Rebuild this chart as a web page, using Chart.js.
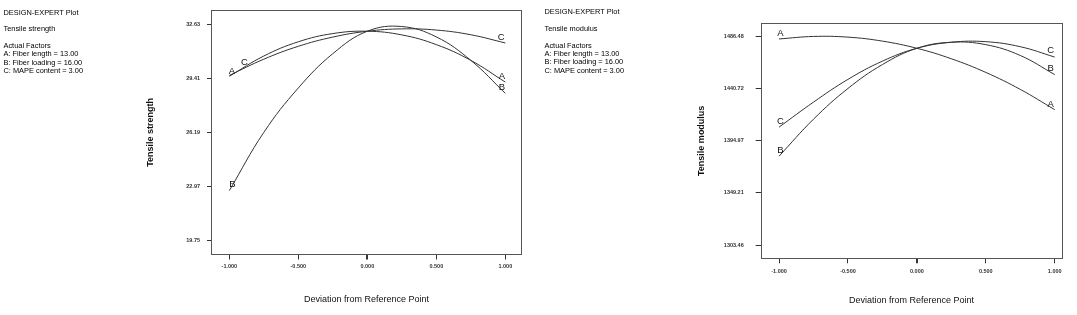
<!DOCTYPE html>
<html><head><meta charset="utf-8">
<script src="https://cdn.jsdelivr.net/npm/chart.js@4"></script>
<style>
html,body{margin:0;padding:0;background:#fff;width:1077px;height:315px;overflow:hidden;position:relative;font-family:"Liberation Sans",Arial,sans-serif;}
.wrap{position:absolute;top:0;height:315px;}
#infoCanvas{position:absolute;left:0;top:0;}
</style></head><body>
<canvas id="infoCanvas" width="1077" height="315"></canvas>
<div class="wrap" style="left:140px;width:400px"><canvas id="c1" width="400" height="315"></canvas></div>
<div class="wrap" style="left:690px;width:387px"><canvas id="c2" width="387" height="315"></canvas></div>
<script>
// ---- data ----
const xValues = [-1, -0.75, -0.5, -0.25, 0, 0.25, 0.5, 0.75, 1];
const strengthA = [29.55, 30.76, 31.61, 32.10, 32.24, 32.02, 31.44, 30.50, 29.20];
const strengthB = [22.72, 26.20, 28.85, 30.90, 32.24, 32.52, 31.90, 30.50, 28.53];
const strengthC = [29.60, 30.57, 31.34, 31.89, 32.24, 32.38, 32.31, 32.03, 31.54];
const modulusA = [1484.5, 1486.7, 1486.1, 1482.6, 1476.3, 1467.1, 1455.1, 1440.2, 1422.4];
const modulusB = [1381.5, 1414.0, 1441.0, 1462.0, 1476.3, 1481.6, 1479.5, 1470.0, 1453.2];
const modulusC = [1407.0, 1429.0, 1449.0, 1465.0, 1476.3, 1481.6, 1482.1, 1477.7, 1468.6];
const xTicks = [-1, -0.5, 0, 0.5, 1];
const xTickLabels = ["-1.000", "-0.500", "0.000", "0.500", "1.000"];
const strengthTicks = [19.75, 22.97, 26.19, 29.41, 32.63];
const strengthTickLabels = ["19.75", "22.97", "26.19", "29.41", "32.63"];
const modulusTicks = [1303.46, 1349.21, 1394.97, 1440.72, 1486.48];
const modulusTickLabels = ["1303.46", "1349.21", "1394.97", "1440.72", "1486.48"];
const seriesNames = ["A", "B", "C"];
const info1 = ["DESIGN-EXPERT Plot", "", "Tensile strength", "", "Actual Factors", "A: Fiber length = 13.00", "B: Fiber loading = 16.00", "C: MAPE content = 3.00"];
const info2 = ["DESIGN-EXPERT Plot", "", "Tensile modulus", "", "Actual Factors", "A: Fiber length = 13.00", "B: Fiber loading = 16.00", "C: MAPE content = 3.00"];
const xTitle = "Deviation from Reference Point";

const FONT = '"Liberation Sans", Arial, sans-serif';
(function drawInfo() {
  const ctx = document.getElementById('infoCanvas').getContext('2d');
  ctx.font = '7.4px ' + FONT;
  ctx.fillStyle = '#000';
  ctx.textBaseline = 'middle';
  info1.forEach((t, i) => ctx.fillText(t, 3.5, 12.5 + i * 8.35));
  info2.forEach((t, i) => ctx.fillText(t, 544.5, 12.2 + i * 8.35));
})();

Chart.defaults.font.family = FONT;
Chart.defaults.color = '#111';

const boxPlugin = {
  id: 'box',
  afterDraw(chart) {
    const a = chart.chartArea, ctx = chart.ctx;
    ctx.save();
    ctx.strokeStyle = '#555'; ctx.lineWidth = 1;
    ctx.strokeRect(Math.round(a.left) + 0.5, Math.round(a.top) + 0.5, Math.round(a.right - a.left) - 1, Math.round(a.bottom - a.top));
    ctx.restore();
  }
};
const letterPlugin = {
  id: 'letters',
  afterDatasetsDraw(chart, args, opts) {
    const ctx = chart.ctx;
    ctx.save();
    ctx.font = '9.5px ' + FONT;
    ctx.fillStyle = '#111'; ctx.textAlign = 'center'; ctx.textBaseline = 'middle';
    (opts.items || []).forEach(it => {
      const meta = chart.getDatasetMeta(it.ds);
      const pt = meta.data[it.idx < 0 ? meta.data.length - 1 : it.idx];
      ctx.fillText(chart.data.datasets[it.ds].label, pt.x + it.dx, pt.y + it.dy);
    });
    ctx.restore();
  }
};

function makeChart(id, series, yTicks, yLabels, yTitle, g) {
  const datasets = series.map((s, i) => ({
    label: seriesNames[i],
    data: xValues.map((x, k) => ({x: x, y: s[k]})),
    borderColor: '#333', borderWidth: 1, pointRadius: 0, tension: 0.4, fill: false
  }));
  return new Chart(document.getElementById(id), {
    type: 'line',
    data: {datasets},
    options: {
      responsive: false, animation: false,
      layout: {padding: {left: 0, right: g.padRight, top: g.padTop, bottom: 0}},
      plugins: {legend: {display: false}, tooltip: {enabled: false}, letters: {items: g.letters}},
      scales: {
        x: {
          type: 'linear', min: g.xmin, max: g.xmax,
          afterBuildTicks: s => { s.ticks = xTicks.map(v => ({value: v})); },
          afterFit: s => { s.height = g.xHeight; },
          ticks: {callback: (v, i) => xTickLabels[i], font: {size: 5.5, weight: 'bold'}, padding: g.xPad, maxRotation: 0, autoSkip: false, color: '#333'},
          grid: {drawOnChartArea: false, drawTicks: true, tickLength: 5, color: '#333', lineWidth: c => (c.tick && c.tick.value === 0 ? 2 : 1)},
          border: {display: false},
          title: {display: true, text: xTitle, font: {size: 9}, padding: {top: 0, bottom: g.xTitlePad}, color: '#111'}
        },
        y: {
          type: 'linear', min: g.ymin, max: g.ymax,
          afterBuildTicks: s => { s.ticks = yTicks.map(v => ({value: v})); },
          afterFit: s => { s.width = g.yWidth; },
          ticks: {callback: (v, i) => yLabels[i], font: {size: 5.5, weight: 'bold'}, padding: g.yPad, autoSkip: false, color: '#333'},
          grid: {drawOnChartArea: false, drawTicks: true, tickLength: g.yTick, color: '#333'},
          border: {display: false},
          title: {display: true, text: yTitle, font: {size: 9, weight: 'bold'}, padding: {top: g.yTitlePad, bottom: 0}, color: '#111'}
        }
      }
    },
    plugins: [boxPlugin, letterPlugin]
  });
}

makeChart('c1', [strengthA, strengthB, strengthC], strengthTicks, strengthTickLabels, 'Tensile strength', {
  xmin: -1.133, xmax: 1.121, ymin: 18.90, ymax: 33.49,
  padRight: 18, padTop: 6, yWidth: 71, xHeight: 60.5,
  xPad: 4, yPad: 7, yTick: 4, xTitlePad: 10, yTitlePad: 5.6,
  letters: [
    {ds: 0, idx: 0, dx: 2.5, dy: -5}, {ds: 1, idx: 0, dx: 3, dy: -6}, {ds: 2, idx: 0, dx: 15, dy: -13},
    {ds: 0, idx: -1, dx: -3.5, dy: -6}, {ds: 1, idx: -1, dx: -3.5, dy: -6}, {ds: 2, idx: -1, dx: -4, dy: -6}
  ]
});
makeChart('c2', [modulusA, modulusB, modulusC], modulusTicks, modulusTickLabels, 'Tensile modulus', {
  xmin: -1.133, xmax: 1.055, ymin: 1291.8, ymax: 1498.25,
  padRight: 14.7, padTop: 23.3, yWidth: 70.7, xHeight: 56.7,
  xPad: 5, yPad: 12, yTick: 5, xTitlePad: 9, yTitlePad: 6.3,
  letters: [
    {ds: 0, idx: 0, dx: 1.5, dy: -6}, {ds: 1, idx: 0, dx: 1.5, dy: -6}, {ds: 2, idx: 0, dx: 1.5, dy: -6},
    {ds: 0, idx: -1, dx: -4, dy: -5}, {ds: 1, idx: -1, dx: -4, dy: -6}, {ds: 2, idx: -1, dx: -4, dy: -7}
  ]
});
</script>
</body></html>
